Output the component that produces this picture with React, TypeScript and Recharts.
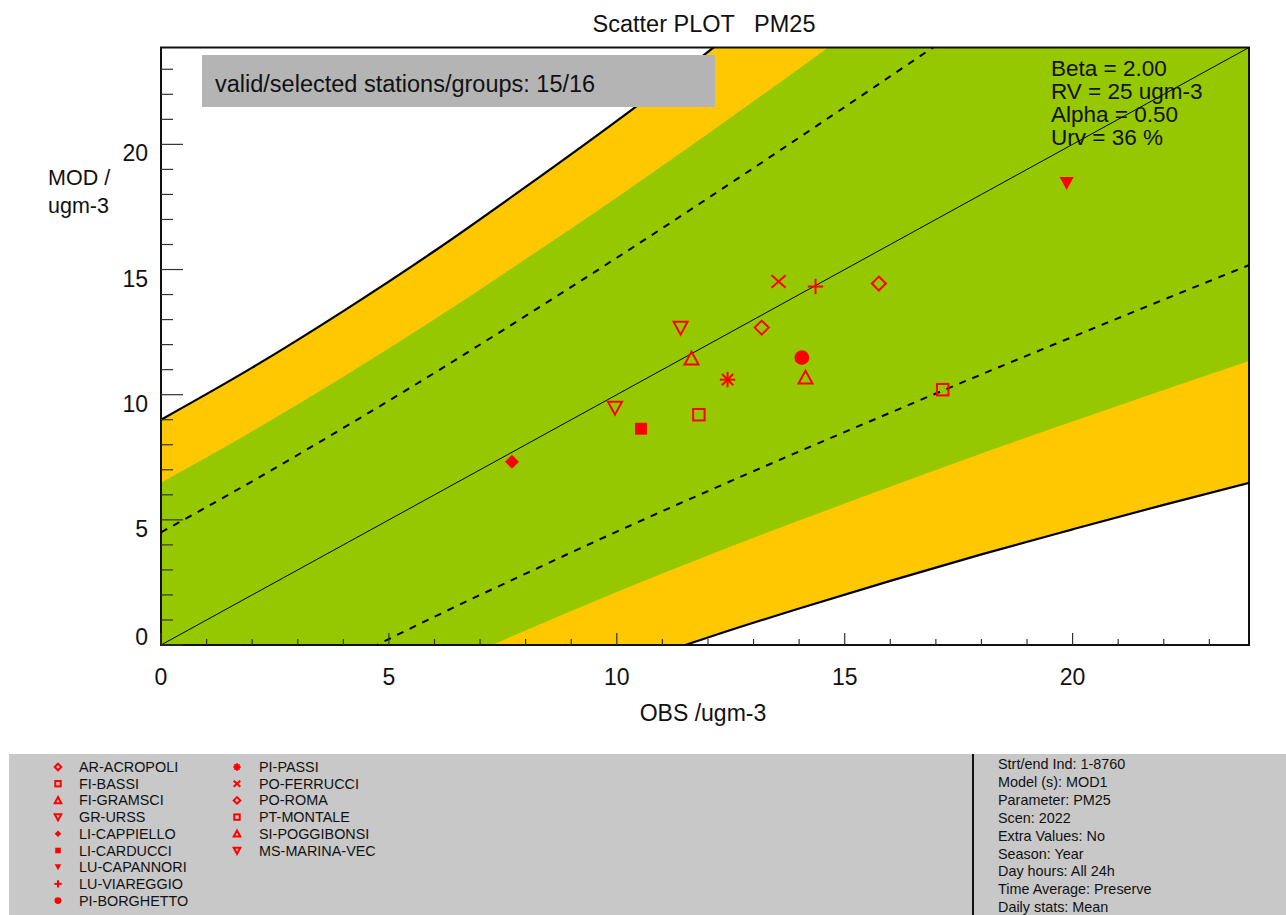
import React from 'react';
import { ComposedChart, Area, Line, Scatter, XAxis, YAxis, ReferenceArea } from 'recharts';

// observation grid for the MQO bands (ugm-3)
const obsGrid = [0, 2, 4, 6, 8, 10, 12, 14, 16, 18, 20, 22, 24];
// outer limit (beta = 2), black solid
const outerHigh = [9.0, 11.08, 13.34, 15.74, 18.3, 20.94, 23.7, 26.54, 29.44, 32.38, 35.38, 38.4, 41.46];
const outerLow = [-9.0, -7.08, -5.34, -3.74, -2.3, -0.94, 0.3, 1.46, 2.56, 3.62, 4.62, 5.6, 6.54];
// green zone limits
const greenHigh = [6.48, 8.54, 10.72, 13.01, 15.42, 17.88, 20.42, 23.03, 25.68, 28.35, 31.07, 33.81, 36.57];
const greenLow = [-6.48, -4.54, -2.72, -1.01, 0.58, 2.12, 3.58, 4.97, 6.32, 7.65, 8.93, 10.19, 11.43];
// dashed lines (beta = 1)
const dashHigh = [4.5, 6.54, 8.67, 10.87, 13.15, 15.47, 17.85, 20.27, 22.72, 25.19, 27.69, 30.2, 32.73];
const dashLow = [-4.5, -2.54, -0.67, 1.13, 2.85, 4.53, 6.15, 7.73, 9.28, 10.81, 12.31, 13.8, 15.27];

const stations = [
  'AR-ACROPOLI', 'FI-BASSI', 'FI-GRAMSCI', 'GR-URSS', 'LI-CAPPIELLO', 'LI-CARDUCCI',
  'LU-CAPANNORI', 'LU-VIAREGGIO', 'PI-BORGHETTO', 'PI-PASSI', 'PO-FERRUCCI', 'PO-ROMA',
  'PT-MONTALE', 'SI-POGGIBONSI', 'MS-MARINA-VEC',
];
const obsValues = [15.75, 11.8, 11.64, 11.4, 7.7, 10.53, 19.87, 14.36, 14.06, 12.43, 13.55, 13.18, 17.15, 14.14, 9.96];
const modValues = [14.44, 9.2, 11.44, 12.68, 7.32, 8.64, 18.44, 14.32, 11.48, 10.6, 14.52, 12.68, 10.2, 10.68, 9.48];
const symbols = [
  'diamond', 'square', 'triUp', 'triDown', 'diamondFill', 'squareFill',
  'triDownFill', 'plus', 'circleFill', 'asterisk', 'cross', 'diamond',
  'square', 'triUp', 'triDown',
];

const xTicks = Array.from({ length: 24 }, (_, i) => i);
const yTicks = xTicks;
const statsLines = ['Beta = 2.00', 'RV = 25 ugm-3', 'Alpha = 0.50', 'Urv = 36 %'];
const infoLines = [
  'Strt/end Ind: 1-8760', 'Model (s): MOD1', 'Parameter: PM25', 'Scen: 2022', 'Extra Values: No',
  'Season: Year', 'Day hours: All 24h', 'Time Average: Preserve', 'Daily stats: Mean',
];

const AXMAX = 23.87;
const FONT = '"Liberation Sans", Arial, sans-serif';
const RED = '#ff0000';

const bandData = obsGrid.map((o, i) => ({
  obs: o,
  orange: [outerLow[i], outerHigh[i]],
  green: [greenLow[i], greenHigh[i]],
  outerHi: outerHigh[i],
  outerLo: outerLow[i],
  dashHi: dashHigh[i],
  dashLo: dashLow[i],
}));

const points = stations.map((name, i) => ({ name, obs: obsValues[i], mod: modValues[i], kind: symbols[i] }));

function marker(kind: string, cx: number, cy: number, s: number, sw: number) {
  const st = { stroke: RED, strokeWidth: sw, fill: 'none' };
  const fl = { fill: RED, stroke: 'none' };
  switch (kind) {
    case 'diamond':
      return <polygon points={`${cx},${cy - s} ${cx + s},${cy} ${cx},${cy + s} ${cx - s},${cy}`} {...st} />;
    case 'diamondFill':
      return <polygon points={`${cx},${cy - s} ${cx + s},${cy} ${cx},${cy + s} ${cx - s},${cy}`} {...fl} />;
    case 'square':
      return <rect x={cx - s * 0.82} y={cy - s * 0.82} width={s * 1.64} height={s * 1.64} {...st} />;
    case 'squareFill':
      return <rect x={cx - s * 0.85} y={cy - s * 0.85} width={s * 1.7} height={s * 1.7} {...fl} />;
    case 'triUp':
      return <polygon points={`${cx},${cy - s} ${cx + s},${cy + s * 0.85} ${cx - s},${cy + s * 0.85}`} {...st} />;
    case 'triDown':
      return <polygon points={`${cx - s},${cy - s * 0.85} ${cx + s},${cy - s * 0.85} ${cx},${cy + s}`} {...st} />;
    case 'triDownFill':
      return <polygon points={`${cx - s},${cy - s * 0.9} ${cx + s},${cy - s * 0.9} ${cx},${cy + s * 0.95}`} {...fl} />;
    case 'circleFill':
      return <circle cx={cx} cy={cy} r={s * 1.05} {...fl} />;
    case 'plus':
      return (
        <g {...st}>
          <line x1={cx - s * 1.1} x2={cx + s * 1.1} y1={cy} y2={cy} />
          <line x1={cx} x2={cx} y1={cy - s * 1.1} y2={cy + s * 1.1} />
        </g>
      );
    case 'cross':
      return (
        <g {...st}>
          <line x1={cx - s} x2={cx + s} y1={cy - s * 0.9} y2={cy + s * 0.9} />
          <line x1={cx - s} x2={cx + s} y1={cy + s * 0.9} y2={cy - s * 0.9} />
        </g>
      );
    case 'asterisk':
      return (
        <g {...st}>
          <line x1={cx - s * 1.1} x2={cx + s * 1.1} y1={cy} y2={cy} />
          <line x1={cx} x2={cx} y1={cy - s * 1.1} y2={cy + s * 1.1} />
          <line x1={cx - s * 0.8} x2={cx + s * 0.8} y1={cy - s * 0.8} y2={cy + s * 0.8} />
          <line x1={cx - s * 0.8} x2={cx + s * 0.8} y1={cy + s * 0.8} y2={cy - s * 0.8} />
        </g>
      );
    default:
      return null;
  }
}

const BottomTick = (props: any) => {
  const { x, y, payload } = props;
  const v = payload.value;
  const major = v % 5 === 0;
  return (
    <g>
      <line x1={x} x2={x} y1={y} y2={y - (major ? 12 : 6)} stroke="#333" strokeWidth={1.2} />
      {major && (
        <text x={x} y={y + 40} textAnchor="middle" fontSize={23} fontFamily={FONT} fill="#111">
          {v}
        </text>
      )}
    </g>
  );
};

const TopTick = (props: any) => {
  const { x, y } = props;
  return <line x1={x} x2={x} y1={y} y2={y + 7} stroke="#333" strokeWidth={1.2} />;
};

const LeftTick = (props: any) => {
  const { x, y, payload } = props;
  const v = payload.value;
  const major = v % 5 === 0;
  return (
    <g>
      <line x1={x} x2={x + (major ? 22 : 12)} y1={y} y2={y} stroke="#333" strokeWidth={1.2} />
      {major && (
        <text x={x - 13} y={v === 0 ? y : y + 17} textAnchor="end" fontSize={23} fontFamily={FONT} fill="#111">
          {v}
        </text>
      )}
    </g>
  );
};

const RightTick = (props: any) => {
  const { x, y, payload } = props;
  const major = payload.value % 5 === 0;
  return <line x1={x} x2={x - (major ? 22 : 12)} y1={y} y2={y} stroke="#333" strokeWidth={1.2} />;
};

const legendBase = 772;
const legendStep = 16.7;

export default function App() {
  return (
    <div style={{ position: 'absolute', left: 0, top: 0, width: 1286, height: 915, overflow: 'hidden', background: '#fff' }}>
      <ComposedChart
        width={1286}
        height={750}
        data={bandData}
        margin={{ top: 47.5, right: 37, bottom: 0, left: 0 }}
      >
        <XAxis
          dataKey="obs"
          type="number"
          domain={[0, AXMAX]}
          allowDataOverflow
          ticks={xTicks}
          interval={0}
          height={105}
          tickSize={0}
          tickMargin={0}
          axisLine={false}
          tickLine={false}
          tick={<BottomTick />}
        />
        <XAxis
          xAxisId="t"
          orientation="top"
          dataKey="obs"
          type="number"
          domain={[0, AXMAX]}
          allowDataOverflow
          ticks={xTicks}
          interval={0}
          height={0}
          tickSize={0}
          tickMargin={0}
          axisLine={false}
          tickLine={false}
          tick={<TopTick />}
        />
        <YAxis
          type="number"
          domain={[0, AXMAX]}
          allowDataOverflow
          ticks={yTicks}
          interval={0}
          width={161}
          tickSize={0}
          tickMargin={0}
          axisLine={false}
          tickLine={false}
          tick={<LeftTick />}
        />
        <YAxis
          yAxisId="r"
          orientation="right"
          type="number"
          domain={[0, AXMAX]}
          allowDataOverflow
          ticks={yTicks}
          interval={0}
          width={0}
          tickSize={0}
          tickMargin={0}
          axisLine={false}
          tickLine={false}
          tick={<RightTick />}
        />
        <Area dataKey="orange" type="monotone" fill="#ffc800" fillOpacity={1} stroke="none" isAnimationActive={false} />
        <Area dataKey="green" type="monotone" fill="#96c800" fillOpacity={1} stroke="none" isAnimationActive={false} />
        <Line dataKey="outerHi" type="monotone" stroke="#000" strokeWidth={2.2} dot={false} activeDot={false} isAnimationActive={false} />
        <Line dataKey="outerLo" type="monotone" stroke="#000" strokeWidth={2.2} dot={false} activeDot={false} isAnimationActive={false} />
        <Line dataKey="dashHi" type="monotone" stroke="#000" strokeWidth={2} strokeDasharray="7 7" dot={false} activeDot={false} isAnimationActive={false} />
        <Line dataKey="dashLo" type="monotone" stroke="#000" strokeWidth={2} strokeDasharray="7 7" dot={false} activeDot={false} isAnimationActive={false} />
        <Line dataKey="obs" type="linear" stroke="#000" strokeWidth={1} dot={false} activeDot={false} isAnimationActive={false} />
        <Scatter
          data={points}
          dataKey="mod"
          isAnimationActive={false}
          shape={(p: any) => marker(p.payload.kind, p.cx, p.cy, 7, 2)}
        />
        <ReferenceArea x1={0} x2={AXMAX} y1={0} y2={AXMAX} fill="none" stroke="#111" strokeWidth={2} ifOverflow="visible" />
      </ComposedChart>

      <svg
        width={1286}
        height={915}
        style={{ position: 'absolute', left: 0, top: 0, pointerEvents: 'none' }}
        fontFamily={FONT}
      >
        <text x={704} y={32} textAnchor="middle" fontSize={23.5} fill="#111" xmlSpace="preserve">
          Scatter PLOT   PM25
        </text>
        <text x={48} y={185} fontSize={21.5} fill="#111">MOD /</text>
        <text x={48} y={213} fontSize={21.5} fill="#111">ugm-3</text>
        <text x={703} y={721} textAnchor="middle" fontSize={23} fill="#111">OBS /ugm-3</text>

        <rect x={202} y={55} width={513} height={52} fill="#b4b4b4" />
        <text x={215} y={92} fontSize={23.5} fill="#111">valid/selected stations/groups: 15/16</text>

        {statsLines.map((t, i) => (
          <text key={t} x={1051} y={76 + i * 23} fontSize={22.5} fill="#111">{t}</text>
        ))}

        <rect x={9} y={754} width={1277} height={161} fill="#c8c8c8" />
        <line x1={973} x2={973} y1={754} y2={915} stroke="#111" strokeWidth={2} />
        {stations.map((name, i) => {
          const col = i < 9 ? 0 : 1;
          const row = col === 0 ? i : i - 9;
          const by = legendBase + row * legendStep;
          const mx = col === 0 ? 58 : 237;
          const tx = col === 0 ? 79 : 259;
          return (
            <g key={name}>
              {marker(symbols[i], mx, by - 5, 3.3, 2)}
              <text x={tx} y={by} fontSize={14.4} fill="#111">{name}</text>
            </g>
          );
        })}
        {infoLines.map((t, i) => (
          <text key={t} x={998} y={769 + i * 17.9} fontSize={14.4} fill="#111">{t}</text>
        ))}
      </svg>
    </div>
  );
}
